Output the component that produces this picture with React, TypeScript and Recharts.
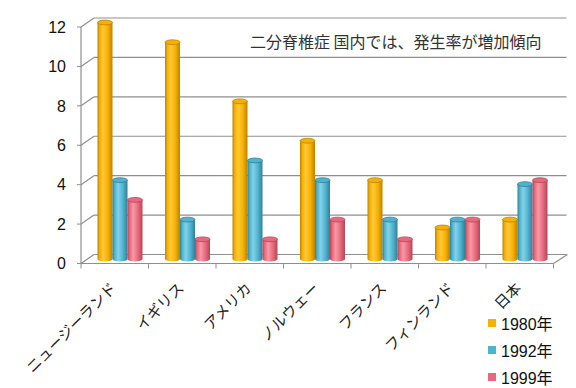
import { BarChart, Bar, XAxis, YAxis, CartesianGrid, Legend, Customized } from "recharts";

document.body.style.margin = "0";

const countries = ["ニュージーランド", "イギリス", "アメリカ", "ノルウェー", "フランス", "フィンランド", "日本"];
const y1980 = [12, 11, 8, 6, 4, 1.6, 2];
const y1992 = [4, 2, 5, 4, 2, 2, 3.8];
const y1999 = [3, 1, 1, 2, 1, 2, 4];
const yTicks = [0, 2, 4, 6, 8, 10, 12];

const seriesNames = ["1980年", "1992年", "1999年"];
const seriesKeys = ["a", "b", "c"];
const colors = [
  { base: "#F7B000", light: "#FFC83A", dark: "#B98300" },
  { base: "#4FB3CF", light: "#82D2E8", dark: "#347F96" },
  { base: "#E8697B", light: "#F59AA7", dark: "#B14859" },
];

const data = countries.map((name, i) => ({ name, a: y1980[i], b: y1992[i], c: y1999[i] }));

const W = 576;
const H = 388;
const LEFT = 81;
const RIGHT = 553.5;
const TOP = 27;
const BOTTOM = 263.5;
const BAND = (RIGHT - LEFT) / countries.length;
// depth of the fake 3d box
const BX = 13;
const BY = -9;
const GRID = "#8f8f8f";

function cylinder(idx: number) {
  const c = colors[idx];
  const gid = "cyl" + idx;
  return (p: any) => {
    const { x, y, width, height } = p;
    if (!height || height <= 0) return <g />;
    const x0 = x + BX / 2 - 1;
    const x1 = x0 + width;
    const yt = y + BY / 2;
    const yb = y + height + BY / 2;
    const rx = width / 2;
    const ry = 2.4;
    return (
      <g>
        <defs>
          <linearGradient id={gid} x1="0" y1="0" x2="1" y2="0">
            <stop offset="0" stopColor={c.dark} />
            <stop offset="0.15" stopColor={c.base} />
            <stop offset="0.38" stopColor={c.light} />
            <stop offset="0.7" stopColor={c.base} />
            <stop offset="1" stopColor={c.dark} />
          </linearGradient>
        </defs>
        <path
          d={`M${x0},${yt} L${x0},${yb} A${rx},${ry} 0 0 0 ${x1},${yb} L${x1},${yt} Z`}
          fill={`url(#${gid})`}
        />
        <ellipse cx={x0 + rx} cy={yt} rx={rx} ry={ry} fill={c.base} stroke={c.dark} strokeWidth={0.8} />
      </g>
    );
  };
}

const gridLine = (p: any) => {
  const { x1, y1, x2 } = p;
  return (
    <g key={"g" + y1}>
      <line x1={x1} y1={y1} x2={x1 + BX} y2={y1 + BY} stroke={GRID} strokeWidth={1.2} />
      <line x1={x1 + BX} y1={y1 + BY} x2={x2 + BX} y2={y1 + BY} stroke={GRID} strokeWidth={1.2} />
    </g>
  );
};

const XTick = (p: any) => {
  const { x, payload, index } = p;
  const half = BAND / 2;
  const tx = x - 2;
  const ty = BOTTOM + 21;
  return (
    <g>
      <line x1={x - half} y1={BOTTOM} x2={x - half} y2={BOTTOM + 5} stroke={GRID} />
      {index === countries.length - 1 && (
        <line x1={x + half} y1={BOTTOM} x2={x + half} y2={BOTTOM + 5} stroke={GRID} />
      )}
      <text
        x={tx}
        y={ty}
        transform={`rotate(-45 ${tx} ${ty})`}
        textAnchor="end"
        dominantBaseline="central"
        fontSize={15}
        fontFamily="'Noto Sans CJK JP', sans-serif"
        fill="#222"
      >
        {payload.value}
      </text>
    </g>
  );
};

const Decor = () => (
  <g>
    <line x1={RIGHT} y1={BOTTOM} x2={RIGHT + BX + 1} y2={BOTTOM + BY} stroke={GRID} strokeWidth={1.2} />
    <text x={250} y={41} fontSize={16} fontFamily="'Noto Sans CJK JP', sans-serif" fill="#333" dominantBaseline="central">
      二分脊椎症 国内では、発生率が増加傾向
    </text>
  </g>
);

const renderLegend = () => (
  <div style={{ fontFamily: "'Liberation Sans', 'Noto Sans CJK JP', sans-serif", fontSize: 16, color: "#111" }}>
    {seriesNames.map((n, i) => (
      <div key={n} style={{ display: "flex", alignItems: "center", height: 26.7 }}>
        <span style={{ width: 8, height: 8, background: colors[i].base, marginRight: 5, display: "inline-block" }} />
        <span>{n}</span>
      </div>
    ))}
  </div>
);

export default function App() {
  return (
    <BarChart
      width={W}
      height={H}
      data={data}
      margin={{ top: TOP, left: LEFT - 60, right: W - RIGHT, bottom: 24 }}
      barCategoryGap={11}
      barGap={0}
    >
      <CartesianGrid horizontal={gridLine} vertical={false} />
      <XAxis
        dataKey="name"
        height={H - BOTTOM - 24}
        interval={0}
        tickLine={false}
        axisLine={{ stroke: GRID, strokeWidth: 1.2 }}
        tick={<XTick />}
      />
      <YAxis
        width={60}
        domain={[0, 12]}
        ticks={yTicks}
        tickSize={4}
        tickMargin={11}
        axisLine={{ stroke: GRID, strokeWidth: 1.2 }}
        tickLine={{ stroke: GRID }}
        tick={{ fontSize: 16, fill: "#111", fontFamily: "'Liberation Sans', sans-serif" }}
      />
      {seriesKeys.map((k, i) => (
        <Bar key={k} dataKey={k} name={seriesNames[i]} fill={colors[i].base} shape={cylinder(i)} isAnimationActive={false} />
      ))}
      <Customized component={Decor} />
      <Legend
        layout="vertical"
        align="center"
        verticalAlign="middle"
        wrapperStyle={{ left: 488, top: 310, width: 88 }}
        content={renderLegend}
      />
    </BarChart>
  );
}
